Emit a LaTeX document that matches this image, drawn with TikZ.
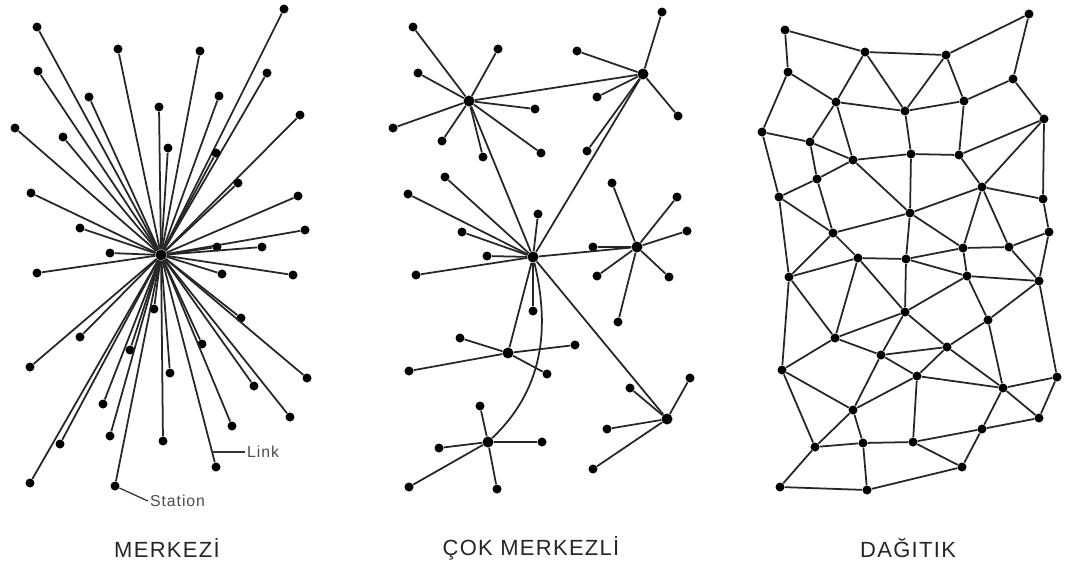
\documentclass[tikz,border=0pt]{standalone}
\usepackage{fontspec}
\setmainfont{Liberation Sans}
\newfontfamily\capfont[LetterSpace=6]{Liberation Sans}
\begin{document}
\begin{tikzpicture}[x=0.02cm,y=-0.02cm,
    dot/.style={circle,fill=black,inner sep=0pt,minimum size=0.18cm},
    hubdot/.style={dot,minimum size=0.22cm},
    link/.style={line width=1pt,black!85},
    tag/.style={font=\capfont\fontsize{9}{10}\selectfont,text=black!70,inner sep=1pt},
    caption/.style={font=\capfont\fontsize{12.5}{14}\selectfont,text=black!85}]
    \fill[white] (0,0) rectangle (1070,569);
    \useasboundingbox (0,0) rectangle (1070,569);
    % centralised star
    \node[hubdot] (cen) at (161,255) {};
    \foreach \x/\y [count=\i] in {37/27,118/49,200/51,284/9,38/71,267/73,89/97,
        159/107,219/96,15/128,63/137,168/148,216/153,300/115,238/183,31/193,
        298/196,80/228,305/230,110/253,217/247,262/247,37/273,222/274,293/275,
        154/309,241/318,80/337,30/367,130/350,202/344,170/373,307/378,254/386,
        103/404,290/417,232/426,110/436,60/444,163/441,216/467,30/483,115/486}{
      \node[dot] (m\i) at (\x,\y) {};
      \draw[link] (cen) -- (m\i);
    }
    \coordinate (lk) at (212,452);
    \node[tag,anchor=west] (linktxt) at (245,452) {Link};
    \draw[line width=0.7pt,black!80] (lk) -- (linktxt.west);
    \node[tag,anchor=west] (stattxt) at (148,501) {Station};
    \draw[line width=0.7pt,black!80] (m43) -- (stattxt.west);
    % several hubs
    \node[hubdot] (h1) at (469,101) {};
    \node[hubdot] (h2) at (643,74) {};
    \node[hubdot] (h3) at (533,257) {};
    \node[hubdot] (h4) at (637,247) {};
    \node[hubdot] (h5) at (508,353) {};
    \node[hubdot] (h6) at (488,442) {};
    \node[hubdot] (h7) at (667,419) {};
    \foreach \x/\y [count=\i] in {413/27,498/49,418/73,535/109,393/128,442/141,483/157,541/153}{
      \node[dot] (ha\i) at (\x,\y) {};
      \draw[link] (h1) -- (ha\i);
    }
    \foreach \x/\y [count=\i] in {662/12,577/51,597/97,678/116,587/151}{
      \node[dot] (hb\i) at (\x,\y) {};
      \draw[link] (h2) -- (hb\i);
    }
    \foreach \x/\y [count=\i] in {445/177,408/194,538/214,462/232,487/256,416/275,533/311}{
      \node[dot] (hc\i) at (\x,\y) {};
      \draw[link] (h3) -- (hc\i);
    }
    \foreach \x/\y [count=\i] in {612/183,677/197,687/231,593/247,597/276,669/277,618/322}{
      \node[dot] (hd\i) at (\x,\y) {};
      \draw[link] (h4) -- (hd\i);
    }
    \foreach \x/\y [count=\i] in {460/338,575/345,409/371,547/374}{
      \node[dot] (he\i) at (\x,\y) {};
      \draw[link] (h5) -- (he\i);
    }
    \foreach \x/\y [count=\i] in {480/406,542/442,439/448,409/487,497/489}{
      \node[dot] (hf\i) at (\x,\y) {};
      \draw[link] (h6) -- (hf\i);
    }
    \foreach \x/\y [count=\i] in {690/378,630/388,607/429,593/469}{
      \node[dot] (hg\i) at (\x,\y) {};
      \draw[link] (h7) -- (hg\i);
    }
    \draw[link] (h1) -- (h2);
    \draw[link] (h1) -- (h3);
    \draw[link] (h2) -- (h3);
    \draw[link] (h3) -- (h4);
    \draw[link] (h3) -- (h5);
    \draw[link] (h3) -- (h7);
    \draw[link] (h3) .. controls (548,320) and (548,385) .. (h6);
    % mesh
    \foreach \n/\x/\y in {A/785/30,B/865/52,C/946/55,D/1029/14,E/788/72,F/1013/79,
        G/836/102,H/905/111,I/964/101,J/1044/119,K/762/132,L/810/142,M/853/160,
        N/911/154,O/959/155,P/817/179,Q/982/187,R/779/197,S/1043/199,T/910/213,
        U/833/233,V/1049/232,W/963/248,X/1009/247,Y/858/258,Z/906/259,
        a1/789/277,a2/967/276,a3/1039/281,b1/905/312,b2/988/320,b3/835/338,
        b4/947/347,b5/881/355,b6/782/370,b7/917/376,b8/1003/388,b9/1057/377,
        c1/853/410,c2/1039/418,c3/982/429,c4/815/447,c5/863/443,c6/913/442,
        c7/962/467,c8/780/487,c9/867/490}{
      \node[dot] (\n) at (\x,\y) {};
    }
    \foreach \a/\b in {A/B,A/E,B/C,C/D,D/F,B/G,B/H,C/H,C/I,E/G,E/K,G/H,H/I,I/F,
        F/J,G/L,G/M,K/L,K/R,L/M,L/P,H/N,I/O,M/N,N/O,O/J,J/Q,J/S,O/Q,R/P,P/M,
        M/T,N/T,P/U,R/U,Q/T,Q/S,Q/W,Q/X,S/V,T/Z,T/W,U/T,U/Y,U/a1,R/a1,V/X,
        V/a3,Y/Z,Y/a1,Z/W,Z/a2,W/X,W/a2,X/a3,a2/a3,
        a1/b6,a1/b3,Y/b3,Y/b1,Z/b1,a2/b1,a2/b2,a3/b2,a3/b9,b1/b3,b1/b5,b1/b4,
        b2/b4,b2/b8,b3/b6,b3/b5,b5/b4,b5/b7,b5/c1,b4/b7,b4/b8,b6/c1,b6/c4,
        b7/c1,b7/b8,b7/c6,b8/b9,b8/c2,b8/c3,b9/c2,c1/c4,c1/c5,c4/c5,c4/c8,
        c5/c6,c5/c9,c6/c3,c6/c7,c3/c2,c3/c7,c7/c9,c8/c9}{
      \draw[link] (\a) -- (\b);
    }
    % captions
    \node[caption] (cap1) at (167,548) {MERKEZİ};
    \node[caption] (cap2) at (531,548) {ÇOK MERKEZLİ};
    \node[caption] (cap3) at (908,548) {DAĞITIK};
\end{tikzpicture}
\end{document}
